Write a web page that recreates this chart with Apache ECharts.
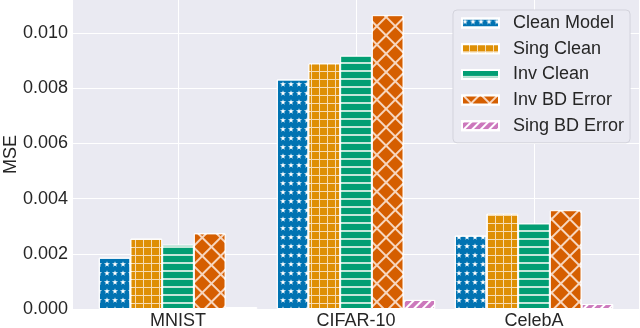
<!DOCTYPE html>
<html>
<head>
<meta charset="utf-8">
<script src="https://cdn.jsdelivr.net/npm/echarts@6/dist/echarts.min.js"></script>
<style>
  html, body { margin: 0; padding: 0; background: #fff; }
  #chart { width: 640px; height: 328px; }
</style>
</head>
<body>
<div id="chart"></div>
<script>
// data
const categories = ['MNIST', 'CIFAR-10', 'CelebA']
const seriesNames = ['Clean Model', 'Sing Clean', 'Inv Clean', 'Inv BD Error', 'Sing BD Error']
const cleanModel = [0.00186, 0.00832, 0.00266]
const singClean = [0.00255, 0.0089, 0.00345]
const invClean = [0.00233, 0.00918, 0.0031]
const invBdError = [0.00274, 0.01065, 0.00358]
const singBdError = [0.00007, 0.00033, 0.00018]
const yTicks = [0, 0.002, 0.004, 0.006, 0.008, 0.010]

const FONT = '"Liberation Sans", Arial, sans-serif'
const TEXT = '#262626'
const STAR = 'path://M50,0 L61,35 L98,35 L68,57 L79,91 L50,70 L21,91 L32,57 L2,35 L39,35 Z'

// hatch looks, done with decals
const looks = [
  { color: '#0173b2', decal: { symbol: STAR, symbolSize: 1, color: '#ffffff', dashArrayX: [5.3, 2], dashArrayY: [5.3, 2.7] } },
  { color: '#f6dcb4', decal: { symbol: 'rect', symbolSize: 1, color: '#de8f05', dashArrayX: [6.7, 1], dashArrayY: [6.7, 1] } },
  { color: '#c4e6d9', decal: { symbol: 'rect', symbolSize: 1, color: '#029e73', dashArrayX: [1, 0], dashArrayY: [5.5, 1.2] } },
  { color: '#f7d6be', decal: { symbol: 'rect', symbolSize: 1, color: '#d55e00', dashArrayX: [10.2, 1.3], dashArrayY: [10.2, 1.3], rotation: Math.PI / 4 } },
  { color: '#cc78bc', decal: { symbol: 'rect', symbolSize: 1, color: '#ffffff', dashArrayX: [1, 0], dashArrayY: [1.6, 3.1], rotation: -Math.PI / 4 } }
]

const values = [cleanModel, singClean, invClean, invBdError, singBdError]

const chart = echarts.init(document.getElementById('chart'))

const series = values.map((vals, i) => ({
  name: seriesNames[i],
  type: 'bar',
  barGap: '0%',
  barCategoryGap: '11%',
  data: vals.map((v, k) => [k, v]),
  itemStyle: {
    color: looks[i].color,
    decal: looks[i].decal,
    borderColor: '#ffffff',
    borderWidth: 1
  },
  emphasis: { disabled: true }
}))

chart.setOption({
  animation: false,
  textStyle: { fontFamily: FONT },
  grid: {
    left: 73, right: 1, top: 0, bottom: 19,
    outerBoundsMode: 'none',
    containLabel: false,
    show: true, backgroundColor: '#eaeaf2', borderWidth: 0
  },
  legend: {
    orient: 'vertical',
    left: 453, top: 10,
    padding: [4, 6, 8, 8],
    itemWidth: 37, itemHeight: 9, itemGap: 7.7,
    icon: 'rect',
    backgroundColor: '#eaeaf2',
    borderColor: '#d3d3dc', borderWidth: 1, borderRadius: 4,
    textStyle: { fontSize: 18, color: TEXT, fontFamily: FONT, lineHeight: 18, padding: [0, 0, 0, 9] },
    data: seriesNames
  },
  xAxis: {
    type: 'value',
    min: -0.59, max: 2.59,
    axisLine: { show: false },
    axisTick: { show: false, customValues: [0, 1, 2] },
    axisLabel: {
      customValues: [0, 1, 2],
      formatter: v => categories[Math.round(v)],
      fontSize: 18, color: TEXT, margin: 3
    },
    splitLine: { show: true, lineStyle: { color: '#ffffff', width: 1 } }
  },
  yAxis: {
    type: 'value',
    min: 0, max: 0.0112,
    name: 'MSE', nameLocation: 'middle', nameRotate: 90, nameGap: 53,
    nameMoveOverlap: false,
    nameTextStyle: { fontSize: 18, color: TEXT },
    axisLine: { show: false },
    axisTick: { show: false, customValues: yTicks },
    axisLabel: {
      customValues: yTicks,
      formatter: v => v.toFixed(3),
      fontSize: 18, color: TEXT, margin: 5
    },
    splitLine: { show: true, lineStyle: { color: '#ffffff', width: 1 } }
  },
  series: series
})
</script>
</body>
</html>
